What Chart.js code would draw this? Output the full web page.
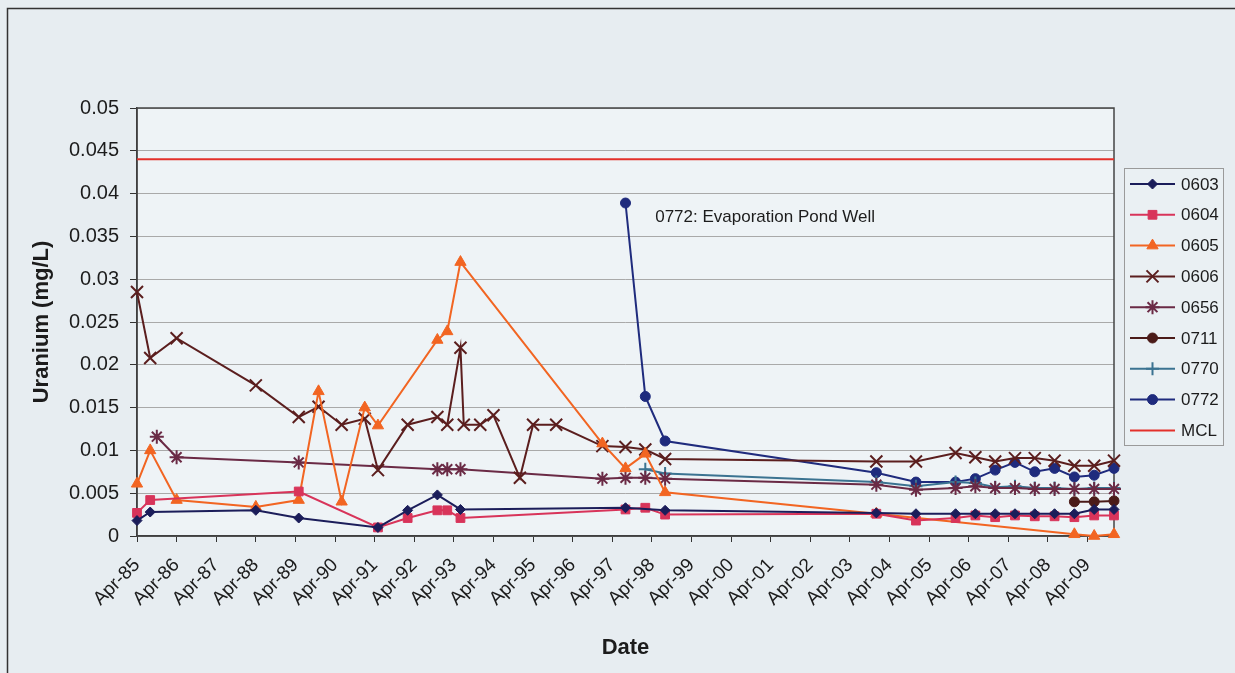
<!DOCTYPE html>
<html>
<head>
<meta charset="utf-8">
<script src="https://cdn.jsdelivr.net/npm/chart.js@4.4.1/dist/chart.umd.min.js"></script>
<style>
html, body { margin: 0; padding: 0; background: #e7edf1; }
canvas { display: block; }
</style>
</head>
<body>
<canvas id="uranium" width="1235" height="673"></canvas>
<script>
// sample dates (YYYY-MM) and uranium values (mg/L) per well
const d0603 = ['1985-04','1985-08','1988-04','1989-05','1991-05','1992-02','1992-11','1993-06','1997-08','1998-08',
               '2003-12','2004-12','2005-12','2006-06','2006-12','2007-06','2007-12','2008-06','2008-12','2009-06','2009-12'];
const u0603 = [0.0018, 0.0028, 0.0030, 0.0021, 0.0010, 0.0030, 0.0048, 0.0031, 0.0033, 0.0030,
               0.0027, 0.0026, 0.0026, 0.0026, 0.0026, 0.0026, 0.0026, 0.0026, 0.0026, 0.0031, 0.0031];

const d0604 = ['1985-04','1985-08','1989-05','1991-05','1992-02','1992-11','1993-02','1993-06','1997-08','1998-02','1998-08',
               '2003-12','2004-12','2005-12','2006-06','2006-12','2007-06','2007-12','2008-06','2008-12','2009-06','2009-12'];
const u0604 = [0.0027, 0.0042, 0.0052, 0.0010, 0.0021, 0.0030, 0.0030, 0.0021, 0.0031, 0.0033, 0.0025,
               0.0026, 0.0018, 0.0021, 0.0024, 0.0022, 0.0024, 0.0023, 0.0023, 0.0022, 0.0024, 0.0024];

const d0605 = ['1985-04','1985-08','1986-04','1988-04','1989-05','1989-11','1990-06','1991-01','1991-05','1992-11','1993-02','1993-06',
               '1997-01','1997-08','1998-02','1998-08','2003-12','2008-12','2009-06','2009-12'];
const u0605 = [0.0061, 0.0100, 0.0042, 0.0034, 0.0042, 0.0169, 0.0040, 0.0150, 0.0129, 0.0229, 0.0239, 0.0320,
               0.0108, 0.0079, 0.0096, 0.0051, 0.0026, 0.0002, 0.0000, 0.0002];

const d0606 = ['1985-04','1985-08','1986-04','1988-04','1989-05','1989-11','1990-06','1991-01','1991-05','1992-02','1992-11',
               '1993-02','1993-06','1993-07','1993-12','1994-04','1994-12','1995-04','1995-11','1997-01','1997-08','1998-02','1998-08',
               '2003-12','2004-12','2005-12','2006-06','2006-12','2007-06','2007-12','2008-06','2008-12','2009-06','2009-12'];
const u0606 = [0.0285, 0.0208, 0.0231, 0.0176, 0.0139, 0.0151, 0.0130, 0.0137, 0.0077, 0.0130, 0.0139,
               0.0130, 0.0220, 0.0130, 0.0130, 0.0141, 0.0068, 0.0130, 0.0130, 0.0105, 0.0104, 0.0101, 0.0090,
               0.0087, 0.0087, 0.0097, 0.0092, 0.0087, 0.0091, 0.0091, 0.0088, 0.0082, 0.0082, 0.0088];

const d0656 = ['1985-10','1986-04','1989-05','1992-11','1993-02','1993-06','1997-01','1997-08','1998-02','1998-08',
               '2003-12','2004-12','2005-12','2006-06','2006-12','2007-06','2007-12','2008-06','2008-12','2009-06','2009-12'];
const u0656 = [0.0116, 0.0092, 0.0086, 0.0078, 0.0078, 0.0078, 0.0067, 0.0068, 0.0068, 0.0067,
               0.0060, 0.0054, 0.0056, 0.0058, 0.0056, 0.0056, 0.0055, 0.0055, 0.0055, 0.0055, 0.0055];

const d0711 = ['2008-12','2009-06','2009-12'];
const u0711 = [0.0040, 0.0040, 0.0041];

const d0770 = ['1998-02','1998-08','2003-12','2004-12','2005-12','2006-06','2006-12','2007-06','2007-12','2008-06','2008-12','2009-06','2009-12'];
const u0770 = [0.0078, 0.0073, 0.0063, 0.0058, 0.0063, 0.0062, 0.0057, 0.0058, 0.0056, 0.0056, 0.0055, 0.0056, 0.0056];

const d0772 = ['1997-08','1998-02','1998-08','2003-12','2004-12','2005-12','2006-06','2006-12','2007-06','2007-12','2008-06','2008-12','2009-06','2009-12'];
const u0772 = [0.0389, 0.0163, 0.0111, 0.0074, 0.0063, 0.0063, 0.0067, 0.0077, 0.0086, 0.0075, 0.0079, 0.0069, 0.0071, 0.0079];

const dMCL = ['1985-04','2009-12'];
const uMCL = [0.044, 0.044];

const xTickLabels = ['Apr-85','Apr-86','Apr-87','Apr-88','Apr-89','Apr-90','Apr-91','Apr-92','Apr-93','Apr-94','Apr-95','Apr-96',
                     'Apr-97','Apr-98','Apr-99','Apr-00','Apr-01','Apr-02','Apr-03','Apr-04','Apr-05','Apr-06','Apr-07','Apr-08','Apr-09'];
const yTickLabels = ['0','0.005','0.01','0.015','0.02','0.025','0.03','0.035','0.04','0.045','0.05'];

const noteText = '0772: Evaporation Pond Well';
const noteAt = { date: '1998-05', value: 0.0372 };

// helpers
function toYear(s) {
    const [y, m] = s.split('-').map(Number);
    return y + (m - 1) / 12;
}
const MON = { Jan: 1, Feb: 2, Mar: 3, Apr: 4, May: 5, Jun: 6, Jul: 7, Aug: 8, Sep: 9, Oct: 10, Nov: 11, Dec: 12 };
function labelToYear(l) {
    const [m, yy] = l.split('-');
    const y = Number(yy) > 50 ? 1900 + Number(yy) : 2000 + Number(yy);
    return y + (MON[m] - 1) / 12;
}
function pts(dates, vals) {
    return dates.map((d, i) => ({ x: toYear(d), y: vals[i] }));
}

const FONT = '"Liberation Sans", Arial, sans-serif';
const TEXT = '#1c1c1c';

// series look
const series = [
    { label: '0603', dates: d0603, vals: u0603, color: '#1b1d5a', style: 'rectRot', r: 5, bw: 1 },
    { label: '0604', dates: d0604, vals: u0604, color: '#d8345a', style: 'rect', r: 6.2, bw: 1 },
    { label: '0605', dates: d0605, vals: u0605, color: '#f26522', style: 'triangle', r: 6.5, bw: 1 },
    { label: '0606', dates: d0606, vals: u0606, color: '#5b1e1e', style: 'crossRot', r: 8.5, bw: 2 },
    { label: '0656', dates: d0656, vals: u0656, color: '#6a2a45', style: 'star', r: 7, bw: 2 },
    { label: '0711', dates: d0711, vals: u0711, color: '#4b1b18', style: 'circle', r: 5, bw: 1 },
    { label: '0770', dates: d0770, vals: u0770, color: '#3b7391', style: 'cross', r: 6.5, bw: 2 },
    { label: '0772', dates: d0772, vals: u0772, color: '#1f2b7d', style: 'circle', r: 5, bw: 1 },
    { label: 'MCL',  dates: dMCL,  vals: uMCL,  color: '#e3302a', style: false, r: 0, bw: 0 }
];

const datasets = series.map(s => ({
    label: s.label,
    data: pts(s.dates, s.vals),
    borderColor: s.color,
    backgroundColor: s.color,
    borderWidth: 2,
    pointStyle: s.style,
    pointRadius: s.r,
    pointBorderWidth: s.bw,
    pointBackgroundColor: s.color,
    pointBorderColor: s.color,
    tension: 0,
    clip: false
}));

// backgrounds, frames, note and legend
const framePlugin = {
    id: 'frame',
    beforeDraw(chart) {
        const { ctx, chartArea: a } = chart;
        ctx.save();
        ctx.fillStyle = '#e7edf1';
        ctx.fillRect(0, 0, chart.width, chart.height);
        ctx.fillStyle = '#eef3f6';
        ctx.fillRect(a.left, a.top, a.right - a.left, a.bottom - a.top);
        ctx.strokeStyle = '#333';
        ctx.lineWidth = 1.5;
        ctx.beginPath();
        ctx.moveTo(7.5, chart.height);
        ctx.lineTo(7.5, 8.5);
        ctx.lineTo(chart.width, 8.5);
        ctx.stroke();
        ctx.restore();
    },
    beforeDatasetsDraw(chart) {
        const { ctx, chartArea: a } = chart;
        ctx.save();
        ctx.strokeStyle = '#444';
        ctx.lineWidth = 1.5;
        ctx.strokeRect(a.left, a.top, a.right - a.left, a.bottom - a.top);
        ctx.restore();
    },
    afterDraw(chart) {
        const { ctx } = chart;
        const xs = chart.scales.x, ys = chart.scales.y;
        ctx.save();
        ctx.fillStyle = TEXT;
        ctx.font = '17px ' + FONT;
        ctx.textBaseline = 'middle';
        ctx.fillText(noteText, xs.getPixelForValue(toYear(noteAt.date)), ys.getPixelForValue(noteAt.value));

        // legend box
        const bx = 1124, by = 168, bw = 99, bh = 277;
        ctx.fillStyle = '#eaf0f3';
        ctx.fillRect(bx, by, bw, bh);
        ctx.strokeStyle = '#9a9a9a';
        ctx.lineWidth = 1;
        ctx.strokeRect(bx + 0.5, by + 0.5, bw, bh);
        series.forEach((s, i) => {
            const y = 184 + i * 30.8;
            ctx.strokeStyle = s.color;
            ctx.lineWidth = 2;
            ctx.beginPath();
            ctx.moveTo(1130, y);
            ctx.lineTo(1175, y);
            ctx.stroke();
            if (s.style) {
                ctx.fillStyle = s.color;
                ctx.lineWidth = s.bw;
                Chart.helpers.drawPoint(ctx, { pointStyle: s.style, radius: s.r, rotation: 0, borderWidth: s.bw }, 1152.5, y);
            }
            ctx.fillStyle = TEXT;
            ctx.font = '17px ' + FONT;
            ctx.textBaseline = 'middle';
            ctx.textAlign = 'left';
            ctx.fillText(s.label, 1181, y + 1);
        });
        ctx.restore();
    }
};

const ctx = document.getElementById('uranium').getContext('2d');
const chart = new Chart(ctx, {
    type: 'line',
    data: { datasets: datasets },
    options: {
        responsive: false,
        animation: false,
        events: [],
        devicePixelRatio: 1,
        layout: { padding: { left: 0, top: 108, right: 121, bottom: 0 } },
        plugins: {
            legend: { display: false },
            tooltip: { enabled: false }
        },
        scales: {
            x: {
                type: 'linear',
                min: labelToYear(xTickLabels[0]),
                max: toYear('2009-12'),
                afterBuildTicks: s => { s.ticks = xTickLabels.map(l => ({ value: labelToYear(l) })); },
                afterFit: s => { s.height = 137; },
                ticks: {
                    autoSkip: false,
                    minRotation: 45,
                    maxRotation: 45,
                    padding: 12,
                    color: TEXT,
                    font: { family: FONT, size: 19 },
                    callback: (v, i) => xTickLabels[i]
                },
                grid: { drawOnChartArea: false, tickLength: 6, tickColor: '#333' },
                border: { color: '#333', width: 1.5 },
                title: {
                    display: true,
                    text: 'Date',
                    color: TEXT,
                    font: { family: FONT, size: 22, weight: 'bold' },
                    padding: { top: 0, bottom: 12 }
                }
            },
            y: {
                min: 0,
                max: 0.05,
                afterBuildTicks: s => { s.ticks = yTickLabels.map(l => ({ value: Number(l) })); },
                afterFit: s => { s.width = 137; },
                ticks: {
                    padding: 11,
                    color: TEXT,
                    font: { family: FONT, size: 20 },
                    callback: (v, i) => yTickLabels[i]
                },
                grid: { color: '#a9a9a9', lineWidth: 1, tickLength: 7, tickColor: '#333' },
                border: { color: '#333', width: 1.5 },
                title: {
                    display: true,
                    text: 'Uranium (mg/L)',
                    color: TEXT,
                    font: { family: FONT, size: 22, weight: 'bold' },
                    padding: { top: 29, bottom: 0 }
                }
            }
        }
    },
    plugins: [framePlugin]
});
</script>
</body>
</html>
